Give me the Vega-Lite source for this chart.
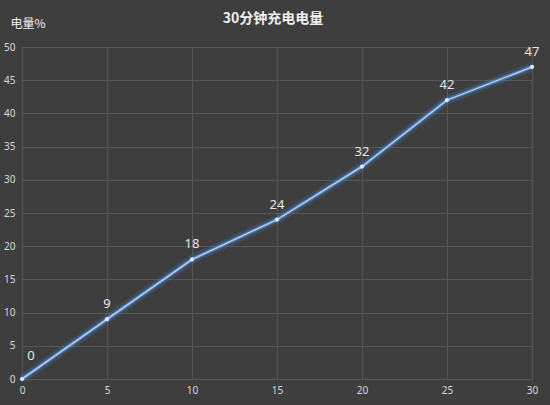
{
  "$schema": "https://vega.github.io/schema/vega-lite/v6.json",
  "width": 510,
  "height": 332,
  "autosize": {"type": "none"},
  "padding": {"left": 22, "top": 47, "right": 18, "bottom": 26},
  "background": "#3e3e3e",
  "title": {
    "text": "30分钟充电电量",
    "font": "Noto Sans CJK SC",
    "fontSize": 14,
    "fontWeight": "bold",
    "color": "#f0f0f0",
    "anchor": "middle",
    "baseline": "middle",
    "offset": 0,
    "dy": 16,
    "dx": -4
  },
  "config": {
    "view": {"stroke": null},
    "axis": {
      "labelFont": "Noto Sans",
      "labelFontSize": 10,
      "labelColor": "#d8d8d8",
      "gridColor": "#575757",
      "gridWidth": 1,
      "domainColor": "#575757",
      "ticks": false
    }
  },
  "data": {
    "values": [
      {"minute": 0, "charge": 0},
      {"minute": 5, "charge": 9},
      {"minute": 10, "charge": 18},
      {"minute": 15, "charge": 24},
      {"minute": 20, "charge": 32},
      {"minute": 25, "charge": 42},
      {"minute": 30, "charge": 47}
    ]
  },
  "encoding": {
    "x": {
      "field": "minute",
      "type": "quantitative",
      "scale": {"domain": [0, 30], "nice": false},
      "axis": {"values": [0, 5, 10, 15, 20, 25, 30], "title": null, "labelPadding": 6, "labelFlush": false}
    },
    "y": {
      "field": "charge",
      "type": "quantitative",
      "scale": {"domain": [0, 50], "nice": false},
      "axis": {
        "values": [0, 5, 10, 15, 20, 25, 30, 35, 40, 45, 50],
        "title": "电量%",
        "titleFont": "Noto Sans CJK SC",
        "titleFontSize": 12,
        "titleFontWeight": "normal",
        "titleColor": "#f0f0f0",
        "titleAngle": 0,
        "titleAlign": "left",
        "titleBaseline": "middle",
        "titleX": -12,
        "titleY": -24,
        "labelPadding": 7,
        "labelFlush": false
      }
    }
  },
  "layer": [
    {"mark": {"type": "line", "color": "#3f7fd0", "strokeWidth": 9, "opacity": 0.22}},
    {"mark": {"type": "line", "color": "#5d9be6", "strokeWidth": 4, "opacity": 0.45}},
    {"mark": {"type": "line", "color": "#a9cdf5", "strokeWidth": 1.6}},
    {"mark": {"type": "point", "filled": true, "color": "#dceaff", "size": 18, "opacity": 1}},
    {
      "transform": [{"filter": "datum.minute > 0"}],
      "mark": {"type": "text", "dy": -15, "color": "#e6e6e6", "font": "Noto Sans", "fontSize": 13},
      "encoding": {"text": {"field": "charge", "type": "quantitative"}}
    },
    {
      "transform": [{"filter": "datum.minute == 0"}],
      "mark": {"type": "text", "dx": 9, "dy": -23, "color": "#e6e6e6", "font": "Noto Sans", "fontSize": 13},
      "encoding": {"text": {"field": "charge", "type": "quantitative"}}
    }
  ]
}
